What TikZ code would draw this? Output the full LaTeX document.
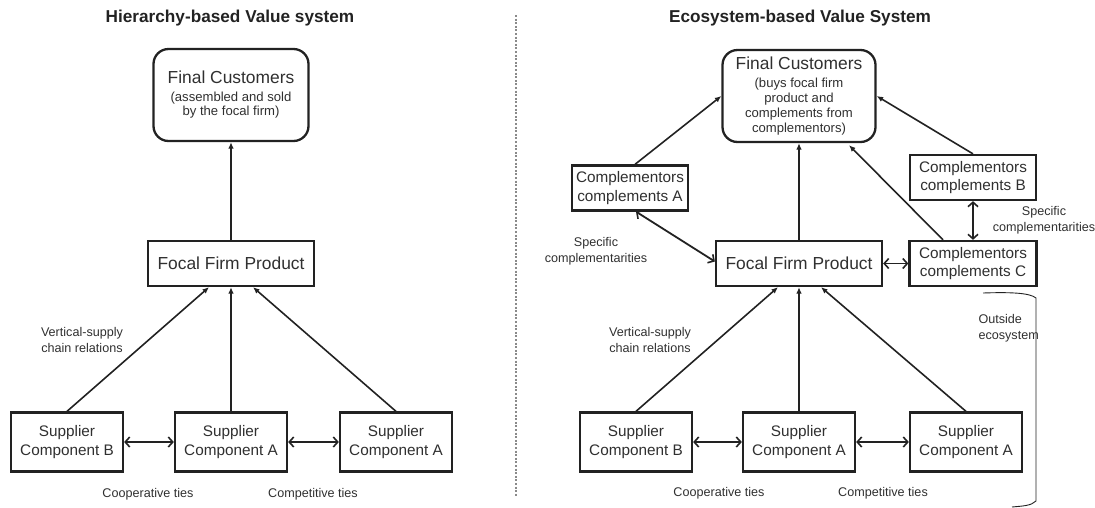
\documentclass[tikz,border=0pt]{standalone}
\usepackage{fontspec}
\setmainfont{Liberation Sans}
\usetikzlibrary{arrows.meta}
\definecolor{ink}{HTML}{222222}
\definecolor{txt}{HTML}{303030}
\definecolor{sep}{HTML}{8A8A8A}

\newcommand{\mainsize}{\fontsize{17.4}{19}\selectfont}
\newcommand{\subsize}{\fontsize{13.1}{15}\selectfont}

\begin{document}
\begin{tikzpicture}[x=1pt,y=-1pt,
  box/.style={draw=ink, line width=2.3pt, fill=white, text=txt, align=center,
    inner sep=0pt, font=\fontsize{15.3}{18.5}\selectfont},
  custbox/.style={box, rounded corners=15pt, minimum width=155pt, minimum height=92pt},
  focalbox/.style={box, minimum width=166pt, minimum height=45pt, font=\fontsize{17.4}{20}\selectfont},
  supbox/.style={box, minimum width=112pt, minimum height=59pt},
  compbox/.style={box, minimum height=45pt},
  heading/.style={text=ink, font=\bfseries\fontsize{17.2}{20}\selectfont},
  lbl/.style={text=txt, align=center, font=\fontsize{12.6}{15.5}\selectfont},
  uparrow/.style={draw=ink, line width=1.6pt, -{Latex[length=6.5pt,width=5.5pt]}},
  twoway/.style={draw=ink, line width=1.8pt,
    {Straight Barb[length=4.5pt,width=10pt,line width=1.6pt]}-{Straight Barb[length=4.5pt,width=10pt,line width=1.6pt]}}
]
\useasboundingbox (0,0) rectangle (1095,507);

% ---------- divider ----------
\draw[sep, line width=1.3pt, dash pattern=on 2pt off 1.6pt] (516,15) -- (516,497);

% ---------- hierarchy-based value system ----------
\node[heading] (titleL) at (230,18) {Hierarchy-based Value system};
\node[custbox] (fcL) at (231,95) {{\mainsize Final Customers}\\[-1pt]
  {\subsize (assembled and sold}\\[-4pt] {\subsize by the focal firm)}};
\node[focalbox] (ffpL) at (231,263.5) {Focal Firm Product};
\node[supbox] (supBL) at (67,442) {Supplier\\Component B};
\node[supbox] (supAL) at (231,442) {Supplier\\Component A};
\node[supbox] (supA2L) at (396,442) {Supplier\\Component A};

\draw[uparrow] (ffpL.north) -- (fcL.south);
\draw[uparrow] (supBL.north) -- ([xshift=-22pt]ffpL.south);
\draw[uparrow] (supAL.north) -- (supAL.north |- ffpL.south);
\draw[uparrow] (supA2L.north) -- ([xshift=22pt]ffpL.south);
\draw[twoway] (supBL.east) -- (supAL.west);
\draw[twoway] (supAL.east) -- (supA2L.west);

\node[lbl] (vsL) at (82,340) {Vertical-supply\\chain relations};
\node[lbl] (coopL) at (148,494) {Cooperative ties};
\node[lbl] (compL) at (313,494) {Competitive ties};

% ---------- ecosystem-based value system ----------
\node[heading] (titleR) at (800,18) {Ecosystem-based Value System};
\node[custbox, minimum width=153pt] (fcR) at (799,96) {{\mainsize Final Customers}\\[-1pt]
  {\subsize (buys focal firm}\\[-3.5pt] {\subsize product and}\\[-3.5pt]
  {\subsize complements from}\\[-3.5pt] {\subsize complementors)}};
\node[focalbox] (ffpR) at (799,263.5) {Focal Firm Product};
\node[compbox, minimum width=116pt] (compA) at (630,188) {Complementors\\complements A};
\node[compbox, minimum width=126pt] (compB) at (973,177.5) {Complementors\\complements B};
\node[compbox, minimum width=127pt] (compC) at (973,263.5) {Complementors\\complements C};
\node[supbox] (supBR) at (636,442) {Supplier\\Component B};
\node[supbox] (supAR) at (799,442) {Supplier\\Component A};
\node[supbox] (supA2R) at (966,442) {Supplier\\Component A};

\draw[uparrow] (ffpR.north) -- (fcR.south -| ffpR.north);
\draw[uparrow] ([xshift=5pt]compA.north) -- (fcR.west);
\draw[uparrow] (compB.north) -- (fcR.east);
\draw[uparrow] ([xshift=-30pt]compC.north) -- ([xshift=50pt,yshift=-2pt]fcR.south);
\draw[twoway] ([xshift=6pt]compA.south) -- ([yshift=2pt]ffpR.west);
\draw[twoway] (ffpR.east) -- (compC.west);
\draw[twoway] (compB.south) -- (compC.north);
\draw[uparrow] (supBR.north) -- ([xshift=-21pt]ffpR.south);
\draw[uparrow] (supAR.north) -- (supAR.north |- ffpR.south);
\draw[uparrow] (supA2R.north) -- ([xshift=22pt]ffpR.south);
\draw[twoway] (supBR.east) -- (supAR.west);
\draw[twoway] (supAR.east) -- (supA2R.west);

\node[lbl] (specA) at (596,251) {Specific\\complementarities};
\node[lbl] (specB) at (1044,220) {Specific\\complementarities};
\node[lbl] (vsR) at (650,340) {Vertical-supply\\chain relations};
\node[lbl] (coopR) at (719,493) {Cooperative ties};
\node[lbl] (compR) at (883,493) {Competitive ties};
\node[lbl, align=left, anchor=west] (outside) at (975,328) {Outside\\ecosystem};

% bracket marking the part outside the ecosystem
\draw[ink, line width=0.9pt]
  (983,293) .. controls (1012,292) and (1030,293) .. (1036,298)
  -- (1036,501) .. controls (1031,506) and (1022,506) .. (1012,507);
\end{tikzpicture}
\end{document}
